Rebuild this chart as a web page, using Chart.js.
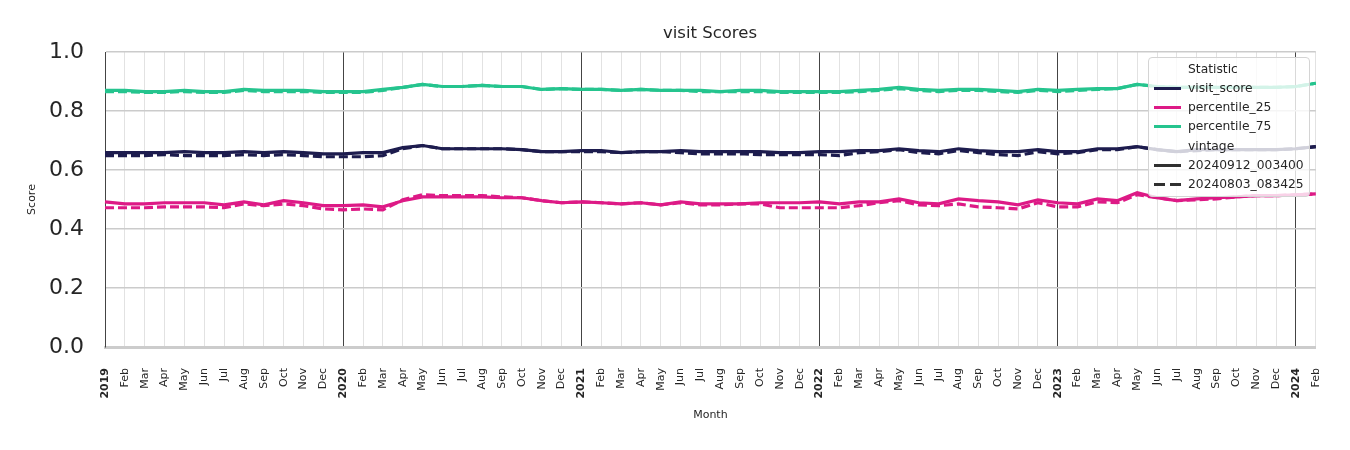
<!DOCTYPE html>
<html lang="en">
<head>
    <meta charset="UTF-8">
    <title>visit Scores</title>
    <style>
        body { margin: 0; background: #fff; font-family: "DejaVu Sans", sans-serif; }
        .wrap { position: relative; width: 1350px; height: 450px; }
        #title { position: absolute; left: 610px; width: 200px; top: 23px; text-align: center; font-size: 16.5px; color: #262626; }
        .legend { position: absolute; left: 1148px; top: 57px; width: 160px; height: 138px; background: rgba(255,255,255,0.8); border: 1px solid #d4d4d4; border-radius: 4px; font-size: 12.3px; color: #262626; }
        .legend .row { position: absolute; left: 0; height: 19px; line-height: 19px; width: 100%; }
        .legend .row span { position: absolute; left: 39px; white-space: nowrap; }
        .legend .row i { position: absolute; left: 5px; top: 8px; width: 27px; height: 3px; }
        .legend .row i.dash { background: linear-gradient(to right, #303030 0 11px, transparent 11px 16px, #303030 16px 27px); }
    </style>
    <script src="https://cdn.jsdelivr.net/npm/chart.js"></script>
</head>
<body>
<div class="wrap">
    <canvas id="chart" width="1350" height="450"></canvas>
    <div id="title">visit Scores</div>
    <div class="legend">
        <div class="row" style="top:2px"><span>Statistic</span></div>
        <div class="row" style="top:21px"><i style="background:#1d1c4e"></i><span>visit_score</span></div>
        <div class="row" style="top:40px"><i style="background:#dd1a86"></i><span>percentile_25</span></div>
        <div class="row" style="top:59px"><i style="background:#25c48e"></i><span>percentile_75</span></div>
        <div class="row" style="top:79px"><span>vintage</span></div>
        <div class="row" style="top:98px"><i style="background:#303030"></i><span>20240912_003400</span></div>
        <div class="row" style="top:117px"><i class="dash"></i><span>20240803_083425</span></div>
    </div>
</div>
<script>
    // Jan 2019 .. Feb 2024
    const years = ['2019', '2020', '2021', '2022', '2023', '2024'];
    const monthNames = ['Feb', 'Mar', 'Apr', 'May', 'Jun', 'Jul', 'Aug', 'Sep', 'Oct', 'Nov', 'Dec'];

    const visitNew = [
        0.659, 0.659, 0.659, 0.659, 0.662, 0.659, 0.659, 0.662, 0.659, 0.662, 0.659, 0.655,
        0.655, 0.659, 0.659, 0.676, 0.683, 0.672, 0.672, 0.672, 0.672, 0.669, 0.662, 0.662,
        0.666, 0.666, 0.659, 0.662, 0.662, 0.666, 0.662, 0.662, 0.662, 0.662, 0.659, 0.659,
        0.662, 0.662, 0.666, 0.666, 0.672, 0.666, 0.662, 0.672, 0.666, 0.662, 0.662, 0.669,
        0.662, 0.662, 0.672, 0.672, 0.679, 0.669, 0.662, 0.669, 0.669, 0.669, 0.669, 0.669,
        0.672, 0.679
    ];
    const visitOld = [
        0.649, 0.649, 0.649, 0.652, 0.649, 0.649, 0.649, 0.652, 0.649, 0.652, 0.649, 0.645,
        0.645, 0.645, 0.649, 0.672, 0.683, 0.672, 0.672, 0.672, 0.672, 0.669, 0.662, 0.662,
        0.662, 0.662, 0.659, 0.662, 0.662, 0.659, 0.655, 0.655, 0.655, 0.652, 0.652, 0.652,
        0.652, 0.649, 0.659, 0.662, 0.669, 0.659, 0.655, 0.666, 0.659, 0.652, 0.649, 0.662,
        0.655, 0.659, 0.669, 0.669, 0.679, 0.669, 0.662, 0.666, 0.669, 0.669, 0.669, 0.669,
        0.672, 0.679
    ];
    const p75New = [
        0.870, 0.870, 0.866, 0.866, 0.870, 0.866, 0.866, 0.873, 0.870, 0.870, 0.870, 0.866,
        0.866, 0.866, 0.873, 0.880, 0.890, 0.883, 0.883, 0.887, 0.883, 0.883, 0.873, 0.876,
        0.873, 0.873, 0.870, 0.873, 0.870, 0.870, 0.870, 0.866, 0.870, 0.870, 0.866, 0.866,
        0.866, 0.866, 0.870, 0.873, 0.880, 0.873, 0.870, 0.873, 0.873, 0.870, 0.866, 0.873,
        0.870, 0.873, 0.876, 0.876, 0.890, 0.883, 0.880, 0.880, 0.880, 0.880, 0.880, 0.880,
        0.883, 0.894
    ];
    const p75Old = [
        0.866, 0.866, 0.863, 0.863, 0.866, 0.863, 0.863, 0.870, 0.866, 0.866, 0.866, 0.863,
        0.863, 0.863, 0.870, 0.880, 0.890, 0.883, 0.883, 0.887, 0.883, 0.883, 0.873, 0.876,
        0.873, 0.873, 0.870, 0.873, 0.870, 0.870, 0.866, 0.866, 0.866, 0.866, 0.863, 0.863,
        0.863, 0.863, 0.866, 0.870, 0.876, 0.870, 0.866, 0.870, 0.870, 0.866, 0.863, 0.870,
        0.866, 0.870, 0.873, 0.876, 0.890, 0.883, 0.880, 0.880, 0.880, 0.880, 0.880, 0.880,
        0.883, 0.894
    ];
    const p25New = [
        0.492, 0.485, 0.485, 0.489, 0.489, 0.489, 0.482, 0.492, 0.482, 0.496, 0.489, 0.479,
        0.479, 0.482, 0.475, 0.496, 0.509, 0.509, 0.509, 0.509, 0.506, 0.506, 0.496, 0.489,
        0.492, 0.489, 0.485, 0.489, 0.482, 0.492, 0.485, 0.485, 0.485, 0.489, 0.489, 0.489,
        0.492, 0.485, 0.492, 0.492, 0.502, 0.489, 0.485, 0.502, 0.496, 0.492, 0.482, 0.499,
        0.489, 0.485, 0.502, 0.496, 0.523, 0.506, 0.496, 0.502, 0.506, 0.509, 0.513, 0.513,
        0.516, 0.519
    ];
    const p25Old = [
        0.472, 0.472, 0.472, 0.475, 0.475, 0.475, 0.472, 0.485, 0.479, 0.485, 0.479, 0.468,
        0.465, 0.468, 0.465, 0.499, 0.516, 0.513, 0.513, 0.513, 0.509, 0.506, 0.496, 0.489,
        0.492, 0.489, 0.485, 0.489, 0.482, 0.489, 0.482, 0.482, 0.485, 0.485, 0.472, 0.472,
        0.472, 0.472, 0.479, 0.489, 0.496, 0.482, 0.479, 0.485, 0.475, 0.472, 0.468, 0.489,
        0.475, 0.475, 0.492, 0.489, 0.516, 0.506, 0.496, 0.499, 0.502, 0.509, 0.513, 0.513,
        0.516, 0.519
    ];

    const labels = [];
    years.forEach(y => {
        labels.push(y);
        monthNames.forEach(m => labels.push(m));
    });
    labels.length = 62;  // ends at Feb 2024

    const isYear = i => /^\d{4}$/.test(labels[i]);
    const NAVY = '#1d1c4e', PINK = '#dd1a86', GREEN = '#25c48e';

    function line(data, color, dashed) {
        return {
            data: data,
            borderColor: color,
            borderWidth: 3.2,
            borderDash: dashed ? [9, 4] : [],
            pointRadius: 0,
            tension: 0,
            fill: false
        };
    }

    new Chart(document.getElementById('chart'), {
        type: 'line',
        data: {
            labels: labels,
            datasets: [
                line(visitNew, NAVY, false),
                line(p25New, PINK, false),
                line(p75New, GREEN, false),
                line(visitOld, NAVY, true),
                line(p25Old, PINK, true),
                line(p75Old, GREEN, true)
            ]
        },
        options: {
            responsive: false,
            animation: false,
            layout: { padding: { top: 52, right: 34, left: 0, bottom: 0 } },
            plugins: { legend: { display: false }, tooltip: { enabled: false } },
            scales: {
                x: {
                    offset: false,
                    afterFit: s => { s.height = 103; },
                    grid: {
                        drawTicks: false,
                        color: ctx => isYear(ctx.index) ? '#444' : '#e2e2e2',
                        lineWidth: 1
                    },
                    border: { color: '#cccccc', width: 3 },
                    ticks: {
                        autoSkip: false,
                        maxRotation: 90,
                        minRotation: 90,
                        padding: 21,
                        color: '#262626',
                        font: ctx => ({ family: 'DejaVu Sans', size: 11, weight: isYear(ctx.index) ? 'bold' : 'normal' })
                    },
                    title: {
                        display: true,
                        text: 'Month',
                        color: '#262626',
                        font: { family: 'DejaVu Sans', size: 11 },
                        padding: { top: 0, bottom: 28 }
                    }
                },
                y: {
                    min: 0,
                    max: 1,
                    afterFit: s => { s.width = 105; },
                    grid: { drawTicks: false, color: '#cbcbcb', lineWidth: 1.5 },
                    border: { color: '#444', width: 1 },
                    ticks: {
                        stepSize: 0.2,
                        padding: 21,
                        color: '#262626',
                        font: { family: 'DejaVu Sans', size: 22 },
                        callback: v => v.toFixed(1)
                    },
                    title: {
                        display: true,
                        text: 'Score',
                        color: '#262626',
                        font: { family: 'DejaVu Sans', size: 11 },
                        padding: { top: 26, bottom: 0 }
                    }
                }
            }
        }
    });
</script>
</body>
</html>
